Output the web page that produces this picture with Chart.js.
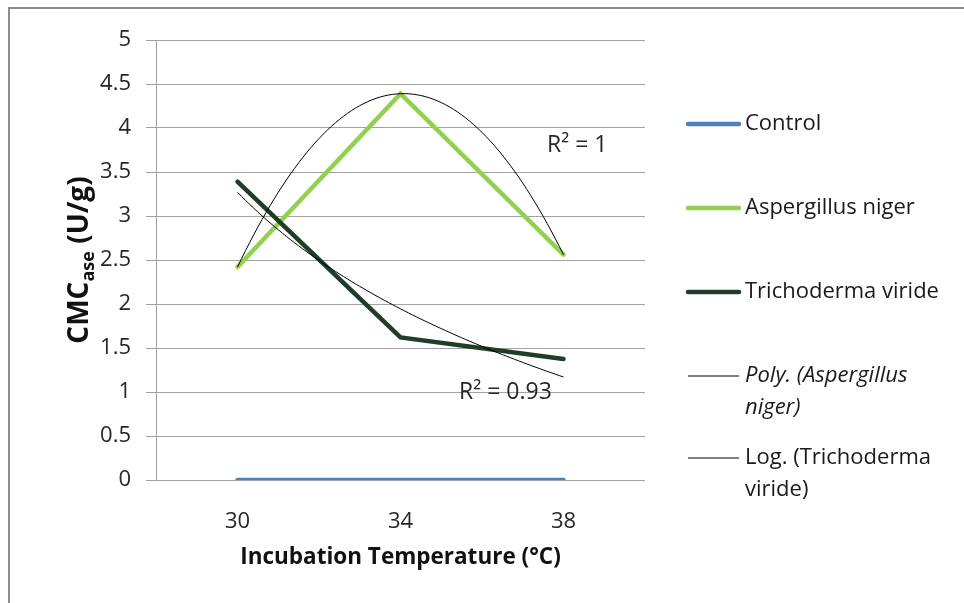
<!DOCTYPE html>
<html><head><meta charset="utf-8">
<script src="https://cdn.jsdelivr.net/npm/chart.js@4.4.1/dist/chart.umd.min.js"></script>
<style>html,body{margin:0;padding:0;background:#fff;overflow:hidden}canvas{display:block}</style>
</head><body>
<canvas id="c" width="964" height="603"></canvas>
<script>
// ---- data ----
const categories = ['30', '34', '38'];
const control = [0, 0, 0];
const aspergillus = [2.42, 4.39, 2.56];
const trichoderma = [3.39, 1.62, 1.375];
const yTicks = [0, 0.5, 1, 1.5, 2, 2.5, 3, 3.5, 4, 4.5, 5];
const yTickLabels = ['0', '0.5', '1', '1.5', '2', '2.5', '3', '3.5', '4', '4.5', '5'];
const seriesNames = ['Control', 'Aspergillus niger', 'Trichoderma viride'];
const trendNames = [['Poly. (Aspergillus', 'niger)'], ['Log. (Trichoderma', 'viride)']];
const xTitle = 'Incubation Temperature (°C)';

// ---- regressions (Excel trendlines use category index 1..n) ----
function solve3(A, b) {
  const M = A.map((r, i) => r.concat([b[i]]));
  for (let i = 0; i < 3; i++) {
    let p = i;
    for (let k = i + 1; k < 3; k++) if (Math.abs(M[k][i]) > Math.abs(M[p][i])) p = k;
    [M[i], M[p]] = [M[p], M[i]];
    for (let k = 0; k < 3; k++) {
      if (k === i) continue;
      const f = M[k][i] / M[i][i];
      for (let j = i; j < 4; j++) M[k][j] -= f * M[i][j];
    }
  }
  return M.map((r, i) => r[3] / r[i]);
}
function polyFit2(ys) {
  const xs = ys.map((_, i) => i + 1);
  const S = k => xs.reduce((s, x) => s + Math.pow(x, k), 0);
  const T = k => xs.reduce((s, x, i) => s + Math.pow(x, k) * ys[i], 0);
  const c = solve3([[S(0), S(1), S(2)], [S(1), S(2), S(3)], [S(2), S(3), S(4)]], [T(0), T(1), T(2)]);
  return x => c[0] + c[1] * x + c[2] * x * x;
}
function logFit(ys) {
  const ls = ys.map((_, i) => Math.log(i + 1));
  const n = ys.length;
  const ml = ls.reduce((a, b) => a + b, 0) / n, my = ys.reduce((a, b) => a + b, 0) / n;
  let sxy = 0, sxx = 0;
  ls.forEach((l, i) => { sxy += (l - ml) * (ys[i] - my); sxx += (l - ml) * (l - ml); });
  const a = sxy / sxx, b = my - a * ml;
  return x => a * Math.log(x) + b;
}
function rSquared(ys, f) {
  const my = ys.reduce((a, b) => a + b, 0) / ys.length;
  let ssr = 0, sst = 0;
  ys.forEach((y, i) => { ssr += Math.pow(y - f(i + 1), 2); sst += Math.pow(y - my, 2); });
  return 1 - ssr / sst;
}
const polyF = polyFit2(aspergillus);
const logF = logFit(trichoderma);
const r2Poly = parseFloat(rSquared(aspergillus, polyF).toFixed(2));
const r2Log = parseFloat(rSquared(trichoderma, logF).toFixed(2));
function sampleTrend(f) {
  const pts = [];
  for (let k = 0; k <= 80; k++) { const x = 1 + 2 * k / 80; pts.push({ x: x, y: f(x) }); }
  return pts;
}
const toPts = arr => arr.map((v, i) => ({ x: i + 1, y: v }));

const FONT = '"Open Sans", Lato, sans-serif';
const TXT = '#262626';
const GRID = '#a3a3a3';

const decor = {
  id: 'decor',
  beforeDraw(chart) {
    const ctx = chart.ctx;
    ctx.save();
    ctx.fillStyle = '#fff';
    ctx.fillRect(0, 0, chart.width, chart.height);
    ctx.strokeStyle = '#8c8c8c';
    ctx.lineWidth = 2;
    ctx.beginPath();
    ctx.moveTo(9, chart.height + 5); ctx.lineTo(9, 8); ctx.lineTo(chart.width + 5, 8);
    ctx.stroke();
    ctx.restore();
  },
  afterDraw(chart) {
    const ctx = chart.ctx, ca = chart.chartArea;
    ctx.save();
    // x title
    ctx.fillStyle = '#111';
    ctx.font = 'bold 22.5px ' + FONT;
    ctx.textAlign = 'center'; ctx.textBaseline = 'middle';
    ctx.fillText(xTitle, (ca.left + ca.right) / 2, 558);
    // y title with subscript
    ctx.save();
    ctx.translate(78, (ca.top + ca.bottom) / 2);
    ctx.rotate(-Math.PI / 2);
    const f1 = 'bold 28px ' + FONT, f2 = 'bold 18px ' + FONT;
    ctx.font = f1; const w1 = ctx.measureText('CMC').width; const w3 = ctx.measureText(' (U/g)').width;
    ctx.font = f2; const w2 = ctx.measureText('ase').width;
    let x0 = -(w1 + w2 + w3) / 2;
    ctx.textAlign = 'left'; ctx.textBaseline = 'alphabetic';
    ctx.font = f1; ctx.fillText('CMC', x0, 10);
    ctx.font = f2; ctx.fillText('ase', x0 + w1, 16);
    ctx.font = f1; ctx.fillText(' (U/g)', x0 + w1 + w2, 10);
    ctx.restore();
    // R² labels
    ctx.fillStyle = TXT;
    ctx.font = '23px ' + FONT;
    ctx.textAlign = 'left'; ctx.textBaseline = 'middle';
    ctx.fillText('R² = ' + r2Poly, 547, 145);
    ctx.fillText('R² = ' + r2Log, 459, 392);
    // legend
    const items = [
      { lines: [seriesNames[0]], color: '#4F81BD', w: 4.5, y: 124 },
      { lines: [seriesNames[1]], color: '#92D050', w: 4.5, y: 208 },
      { lines: [seriesNames[2]], color: '#1F3D28', w: 4.5, y: 292 },
      { lines: trendNames[0], color: '#000', w: 1, y: 376, italic: true },
      { lines: trendNames[1], color: '#000', w: 1, y: 458 }
    ];
    items.forEach(it => {
      ctx.strokeStyle = it.color; ctx.lineWidth = it.w; ctx.lineCap = it.w > 2 ? 'round' : 'butt';
      ctx.beginPath(); ctx.moveTo(688, it.y); ctx.lineTo(739, it.y); ctx.stroke();
      ctx.fillStyle = '#1a1a1a';
      ctx.font = (it.italic ? 'italic ' : '') + '22px ' + FONT;
      it.lines.forEach((t, j) => ctx.fillText(t, 745, it.y + j * 32));
    });
    ctx.restore();
  }
};

new Chart(document.getElementById('c'), {
  type: 'line',
  data: {
    datasets: [
      { label: 'Poly', data: sampleTrend(polyF), borderColor: '#000', borderWidth: 1, pointRadius: 0, order: 0 },
      { label: 'Log', data: sampleTrend(logF), borderColor: '#000', borderWidth: 1, pointRadius: 0, order: 0 },
      { label: seriesNames[2], data: toPts(trichoderma), borderColor: '#1F3D28', borderWidth: 4.5, pointRadius: 0, borderCapStyle: 'round', borderJoinStyle: 'miter', order: 1 },
      { label: seriesNames[1], data: toPts(aspergillus), borderColor: '#92D050', borderWidth: 4.5, pointRadius: 0, borderCapStyle: 'round', borderJoinStyle: 'miter', order: 2 },
      { label: seriesNames[0], data: toPts(control), borderColor: '#4F81BD', borderWidth: 4.5, pointRadius: 0, borderCapStyle: 'round', order: 3 }
    ]
  },
  options: {
    responsive: false,
    animation: false,
    events: [],
    layout: { padding: { top: 40, right: 319, bottom: 0, left: 0 } },
    plugins: { legend: { display: false }, tooltip: { enabled: false } },
    scales: {
      x: {
        type: 'linear', min: 0.5, max: 3.5,
        afterBuildTicks: s => { s.ticks = categories.map((_, i) => ({ value: i + 1 })); },
        afterFit: s => { s.height = 123; },
        grid: { display: false },
        border: { display: false },
        ticks: { callback: v => categories[v - 1], color: TXT, font: { family: FONT, size: 22 }, padding: 21, maxRotation: 0 }
      },
      y: {
        min: 0, max: 5,
        afterBuildTicks: s => { s.ticks = yTicks.map(v => ({ value: v })); },
        afterFit: s => { s.width = 156; },
        grid: { color: GRID, lineWidth: 1, tickLength: 10, drawTicks: true },
        border: { display: true, color: GRID, width: 1 },
        ticks: { callback: v => yTickLabels[yTicks.indexOf(v)], color: TXT, font: { family: FONT, size: 22 }, padding: 15 }
      }
    }
  },
  plugins: [decor]
});
</script>
</body></html>
